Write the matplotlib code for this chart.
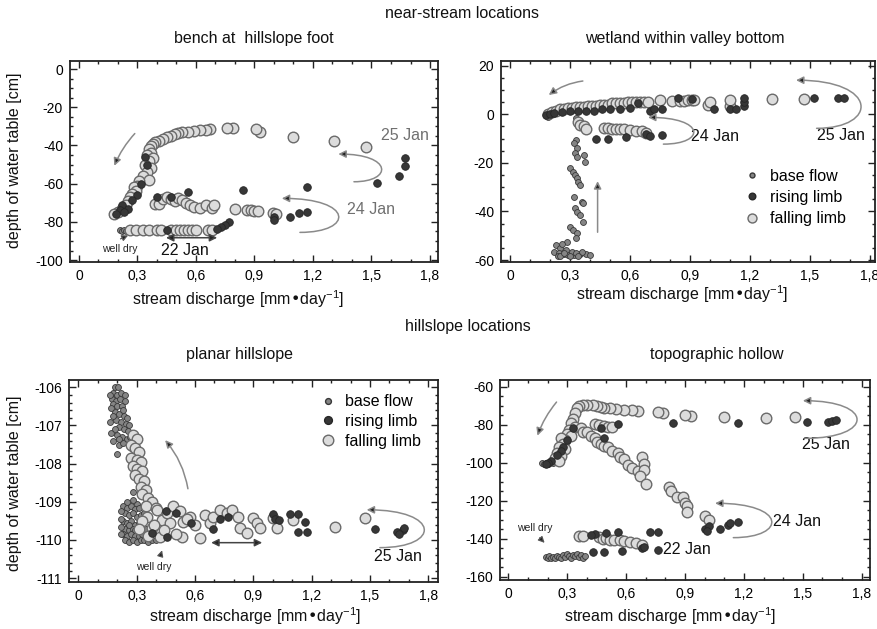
import matplotlib
matplotlib.use("Agg")
import matplotlib.pyplot as plt
from matplotlib.patches import FancyArrowPatch
from matplotlib.path import Path
from matplotlib.lines import Line2D
from matplotlib.ticker import MultipleLocator

plt.rcParams["font.family"] = ["Liberation Sans", "DejaVu Sans"]
plt.rcParams["mathtext.default"] = "regular"

# ---------------------------------------------------------------- axes ticks
x_ticks = [0, 0.3, 0.6, 0.9, 1.2, 1.5, 1.8]
x_tick_labels = ["0", "0,3", "0,6", "0,9", "1,2", "1,5", "1,8"]

bench_y_ticks = [0, -20, -40, -60, -80, -100]
wetland_y_ticks = [20, 0, -20, -40, -60]
planar_y_ticks = [-106, -107, -108, -109, -110, -111]
hollow_y_ticks = [-60, -80, -100, -120, -140, -160]

# ---------------------------------------------------------------- bench at hillslope foot
bench_base_x = [0.17, 0.18, 0.19, 0.20, 0.21, 0.22, 0.21, 0.22, 0.23, 0.24, 0.25,
                0.26, 0.27, 0.28, 0.29, 0.30, 0.31, 0.32, 0.33, 0.34, 0.35]
bench_base_y = [-76.5, -76, -75.5, -75, -74, -73, -84.5, -84.8, -84.5, -84.8, -84.5,
                -84.8, -84.5, -84.8, -84.5, -84.8, -84.5, -84.6, -84.5, -84.7, -84.5]

bench_rise_x = [1.67, 1.67, 1.64, 1.53, 1.17, 0.84, 0.56, 1.00, 1.00, 1.08, 1.13, 1.17,
                0.77, 0.75, 0.73, 0.71, 0.45, 0.47, 0.30, 0.27, 0.22, 0.21, 0.19, 0.25,
                0.32, 0.35, 0.34, 0.23, 0.40]
bench_rise_y = [-46.5, -51, -56, -59.5, -61.5, -63.5, -64.5, -77.5, -79, -77.5, -75.5, -75,
                -80, -81.5, -82.5, -83.5, -84.5, -67, -66, -68.5, -71, -74, -76, -73,
                -60, -50, -46, -75, -67]

bench_fall_x = [1.47, 1.31, 1.10, 0.93, 0.91, 0.79, 0.76, 0.67, 0.65, 0.62, 0.59, 0.56,
                0.53, 0.51, 0.49, 0.47, 0.45, 0.43, 0.41, 0.39, 0.38, 0.37, 0.36, 0.37,
                0.35, 0.38, 0.36, 0.34, 0.37, 0.35, 0.33, 0.36, 0.31, 0.30, 0.28, 0.29,
                0.27, 0.26, 0.25, 0.24, 0.22, 0.20, 0.18,
                0.39, 0.41, 0.43, 0.45, 0.47, 0.49, 0.51, 0.53, 0.55, 0.57, 0.59, 0.62,
                0.65, 0.68, 0.69, 0.80, 0.86, 0.88, 0.90, 0.92, 0.995, 1.01,
                0.26, 0.29, 0.33, 0.36, 0.40, 0.42, 0.47, 0.50, 0.52, 0.54, 0.56, 0.58,
                0.60, 0.66, 0.68]
bench_fall_y = [-41, -37.5, -35.5, -33, -31.5, -31, -31, -31.5, -32, -32, -32.5, -33,
                -33, -33.5, -34, -35, -35.5, -36.5, -37.5, -38, -39.5, -40.5, -42, -44,
                -45, -46.5, -48, -50, -52, -54, -56, -58, -58.5, -61, -62, -64,
                -65.5, -67, -69, -71, -73, -75, -76,
                -70.5, -70.5, -68, -67, -68, -69, -67.5, -68.5, -70, -71, -72, -72.5,
                -71, -72.5, -71, -73, -74, -74, -74.5, -74.5, -75.5, -76,
                -84.5, -84.5, -84.5, -84.5, -84.5, -84.5, -84.5, -84.5, -84.5, -84.5, -84.5, -84.5,
                -84.5, -84.5, -84.5]

# ---------------------------------------------------------------- wetland within valley bottom
wetland_base_x = [0.18, 0.19, 0.33, 0.34, 0.35, 0.33, 0.32, 0.333, 0.325, 0.337, 0.37, 0.377,
                  0.30, 0.313, 0.325, 0.333, 0.342, 0.35, 0.32, 0.358, 0.367, 0.325, 0.337,
                  0.35, 0.363, 0.30, 0.317, 0.337, 0.33, 0.283,
                  0.23, 0.25, 0.22, 0.245, 0.27, 0.29, 0.32, 0.35, 0.38, 0.40, 0.24, 0.25,
                  0.28, 0.31, 0.33, 0.26, 0.36, 0.30, 0.27, 0.34]
wetland_base_y = [-0.5, -1, -1.5, -2.5, -3.5, -10.6, -12, -14, -16, -17.5, -16.8, -19.5,
                  -22.2, -23.6, -25, -26.4, -27.7, -29.1, -34, -36, -36.7, -38.7, -40.1,
                  -41.5, -44.2, -46.3, -47.6, -49, -51, -52.5,
                  -54, -55, -56.5, -57, -57.5, -58, -58, -57.5, -57.5, -58, -58.5, -58.5,
                  -56, -56.5, -57, -53.5, -56.5, -58.5, -57, -58.3]

wetland_rise_x = [0.18, 0.20, 0.22, 0.26, 0.30, 0.34, 0.38, 0.42, 0.46, 0.50, 0.55, 0.60,
                  0.64, 0.70, 0.72, 0.76, 0.84, 0.91, 1.02, 1.10, 1.13, 1.17, 1.17, 1.17,
                  1.52, 1.64, 1.67, 0.43, 0.49, 0.58, 0.68, 0.70, 0.76]
wetland_rise_y = [-0.5, 0, 0.5, 1, 1.5, 1.5, 1.5, 1.5, 2, 2, 2, 2.5,
                  4.5, 1.5, 2, 2, 6.5, 6.3, 2, 2, 2, 3.5, 5, 6.5,
                  6.8, 6.7, 6.8, -10.3, -10, -9.5, -8, -9, -8.5]

wetland_fall_x = [0.19, 0.21, 0.23, 0.25, 0.27, 0.29, 0.31, 0.33, 0.35, 0.37, 0.39, 0.41,
                  0.43, 0.45, 0.47, 0.49, 0.51, 0.53, 0.55, 0.57, 0.59, 0.61, 0.63, 0.65,
                  0.67, 0.69, 0.75, 0.81, 0.85, 0.87, 0.89, 0.91, 0.92, 0.99, 1.00, 1.10,
                  1.10, 1.31, 1.47,
                  0.34, 0.35, 0.37, 0.38, 0.47, 0.49, 0.51, 0.53, 0.55, 0.57, 0.60, 0.63,
                  0.66, 0.68]
wetland_fall_y = [0, 1, 1.5, 2, 2, 2.5, 2.5, 3, 3, 3, 3.5, 3.5,
                  3.5, 4, 4, 4, 4.5, 4.5, 4.5, 4.5, 5, 5, 5, 5,
                  5, 5, 6, 5.5, 5.5, 5.5, 6, 6, 6, 4, 5, 3.5,
                  6, 6.3, 6.3,
                  -3, -4.5, -5, -6, -5.5, -5.5, -6, -6, -6, -6.2, -6.5, -6.8,
                  -7, -7.8]

# ---------------------------------------------------------------- planar hillslope
planar_base_x = [0.19, 0.205, 0.18, 0.20, 0.22, 0.175, 0.195, 0.215, 0.18, 0.20, 0.225,
                 0.19, 0.21, 0.235, 0.195, 0.22, 0.245, 0.21, 0.235, 0.255, 0.20, 0.225,
                 0.25, 0.21, 0.26, 0.20, 0.283, 0.30,
                 0.165, 0.17, 0.23, 0.165, 0.24, 0.17, 0.25, 0.18, 0.26, 0.19, 0.265,
                 0.18, 0.24, 0.27, 0.23, 0.21, 0.27,
                 0.23, 0.25, 0.27, 0.29, 0.31, 0.24, 0.26, 0.28, 0.30, 0.32, 0.34,
                 0.23, 0.25, 0.27, 0.29, 0.31, 0.33, 0.24, 0.26, 0.28, 0.30, 0.35,
                 0.23, 0.25, 0.27, 0.29, 0.31, 0.33, 0.37, 0.24, 0.26, 0.28, 0.30, 0.32,
                 0.34, 0.36, 0.38, 0.40, 0.22, 0.22, 0.22, 0.22, 0.25, 0.28, 0.26, 0.29]
planar_base_y = [-106.0, -106.0, -106.15, -106.2, -106.15, -106.3, -106.35, -106.3, -106.45,
                 -106.5, -106.5, -106.65, -106.7, -106.75, -106.85, -106.9, -106.95,
                 -107.05, -107.1, -107.15, -107.25, -107.3, -107.35, -107.5, -107.5,
                 -107.75, -108.75, -109.05,
                 -106.2, -106.55, -106.6, -106.9, -106.35, -107.2, -106.8, -107.4,
                 -107.0, -107.1, -107.3, -106.75, -106.2, -107.6, -107.45, -107.35, -107.3,
                 -109.1, -109.15, -109.1, -109.2, -109.15, -109.3, -109.35, -109.3, -109.4,
                 -109.35, -109.3,
                 -109.5, -109.55, -109.5, -109.6, -109.55, -109.5, -109.7, -109.75, -109.7,
                 -109.75, -109.7,
                 -109.85, -109.9, -109.85, -109.9, -109.9, -109.85, -109.9, -110.0, -110.05,
                 -110.0, -110.05, -110.0, -110.0, -110.05, -110.0, -110.0,
                 -109.25, -109.45, -109.65, -109.85, -109.0, -108.95, -109.6, -109.75]

planar_rise_x = [0.694, 0.729, 0.77, 1.003, 1.011, 1.03, 1.089, 1.131, 1.166, 1.131, 1.174,
                 1.526, 1.637, 1.671, 1.676, 1.65, 0.377, 0.454, 0.45, 0.50, 0.58]
planar_rise_y = [-109.72, -109.46, -109.4, -109.32, -109.46, -109.48, -109.32, -109.32,
                 -109.52, -109.8, -109.8, -109.72, -109.8, -109.75, -109.69, -109.84,
                 -109.82, -109.91, -109.25, -109.3, -109.55]

planar_fall_x = [0.28, 0.30, 0.27, 0.29, 0.31, 0.27, 0.30, 0.32, 0.28, 0.30, 0.33, 0.29,
                 0.31, 0.34, 0.32, 0.35, 0.33, 0.36, 0.38, 0.35, 0.40,
                 0.351, 0.377, 0.403, 0.429, 0.454, 0.489, 0.471, 0.523, 0.54, 0.574, 0.60,
                 0.626, 0.651, 0.677, 0.694, 0.729, 0.763, 0.789, 0.823, 0.831, 0.866,
                 0.90, 0.917, 0.934, 1.003, 1.02, 1.106, 1.32, 1.474,
                 0.531, 0.42, 0.33, 0.31, 0.36, 0.39, 0.44, 0.50, 0.56]
planar_fall_y = [-107.25, -107.35, -107.5, -107.6, -107.7, -107.85, -107.9, -107.95, -108.05,
                 -108.15, -108.2, -108.3, -108.4, -108.45, -108.6, -108.7, -108.8, -108.9,
                 -109.0, -109.1, -109.15,
                 -109.39, -109.69, -109.21, -109.47, -109.3, -109.12, -109.56, -109.25,
                 -109.52, -109.39, -109.6, -109.95, -109.34, -109.56, -109.39, -109.21,
                 -109.3, -109.21, -109.39, -109.69, -109.82, -109.43, -109.56, -109.69,
                 -109.43, -109.69, -109.47, -109.65, -109.43,
                 -109.93, -109.91, -109.5, -109.7, -109.9, -109.6, -109.75, -109.85, -109.45]

# ---------------------------------------------------------------- topographic hollow
hollow_base_x = [0.17, 0.18, 0.19, 0.20, 0.21, 0.22, 0.23,
                 0.19, 0.20, 0.21, 0.22, 0.23, 0.24, 0.25, 0.26, 0.27, 0.28, 0.29, 0.30,
                 0.31, 0.32, 0.33, 0.34, 0.35, 0.36, 0.37, 0.38, 0.39]
hollow_base_y = [-100, -100.5, -100, -100.5, -100, -99.5, -100,
                 -149.5, -150, -149, -150, -149.5, -150, -149, -149.5, -150, -148.5, -149.5,
                 -148, -149, -150, -148.5, -149, -148, -149.5, -148.5, -150, -149]

hollow_rise_x = [1.52, 1.63, 1.65, 1.67, 1.17, 0.84, 0.56, 0.49, 0.47,
                 1.00, 1.02, 1.01, 1.08, 1.12, 1.13, 1.17,
                 0.72, 0.76, 0.56, 0.50, 0.44, 0.42,
                 0.43, 0.49, 0.58, 0.68, 0.69, 0.76,
                 0.33, 0.30, 0.28, 0.27, 0.25, 0.22, 0.20, 0.19]
hollow_rise_y = [-78.5, -78.5, -78, -77.5, -79, -79, -79.5, -87, -82,
                 -135, -133.5, -136, -135, -133, -132, -131,
                 -136.5, -136.5, -136.5, -137, -137.5, -138,
                 -147, -147, -146.5, -145, -144.5, -146,
                 -82, -88, -92, -94, -96, -99, -100, -100.5]

hollow_fall_x = [1.46, 1.31, 1.10, 0.93, 0.90, 0.79, 0.76, 0.66, 0.63, 0.59, 0.55, 0.52,
                 0.49, 0.47, 0.45, 0.43, 0.40, 0.38, 0.36, 0.35,
                 0.34, 0.33, 0.32, 0.34, 0.31, 0.30, 0.32, 0.29, 0.27, 0.28, 0.26, 0.29,
                 0.25, 0.27, 0.24, 0.26,
                 0.37, 0.38, 0.40, 0.42, 0.44, 0.45, 0.47, 0.49, 0.51, 0.53, 0.56, 0.57,
                 0.59, 0.61, 0.63, 0.66, 0.68, 0.69, 0.69, 0.67, 0.70, 0.82, 0.83, 0.86,
                 0.89, 0.90, 0.91, 0.91, 1.00, 1.02,
                 0.44, 0.46, 0.49, 0.51, 0.53,
                 0.36, 0.38, 0.46, 0.48, 0.50, 0.52, 0.54, 0.57, 0.59, 0.62, 0.65, 0.68]
hollow_fall_y = [-76, -76.5, -76, -75.5, -75, -74, -73.5, -73, -72.5, -72.5, -72, -71.5,
                 -71, -70.5, -70, -69.5, -69.5, -69.5, -70, -71.5,
                 -74, -77, -79, -81, -83, -85, -86, -88, -87, -90, -92, -93,
                 -95, -96.5, -97.5, -99,
                 -82, -84, -84, -86, -87, -89, -90, -91, -92, -94, -95, -97,
                 -98, -101, -103, -104.5, -97, -100.5, -104, -107, -111, -113, -115, -118,
                 -118, -121, -123, -126, -128, -130,
                 -79.5, -80, -80.5, -81, -81,
                 -138.5, -138.5, -139, -140, -139.5, -140.5, -141, -141, -141.5, -142,
                 -142.5, -143.5]

# ---------------------------------------------------------------- marker styles
BASE = dict(s=18, facecolor="#858585", edgecolor="#383838", linewidths=0.6, zorder=3)
FALL = dict(s=58, facecolor="#dcdcdc", edgecolor="#6a6a6a", linewidths=1.0, zorder=4)
RISE = dict(s=30, facecolor="#373737", edgecolor="#262626", linewidths=0.6, zorder=5)

LINE_GREY = "#8a8a8a"
HEAD_DARK = "#222222"

fig = plt.figure(figsize=(8.78, 6.29), dpi=100)
fig.patch.set_facecolor("white")

ax_bench = fig.add_axes([70 / 878, 1 - 262 / 629, 368 / 878, 201 / 629])
ax_wet = fig.add_axes([501 / 878, 1 - 262 / 629, 374 / 878, 201 / 629])
ax_planar = fig.add_axes([69 / 878, 1 - 582 / 629, 369 / 878, 202 / 629])
ax_hollow = fig.add_axes([500 / 878, 1 - 580 / 629, 370 / 878, 200 / 629])


def style_axes(ax, xlim, ylim, yticks, yminor):
    ax.set_xlim(*xlim)
    ax.set_ylim(*ylim)
    ax.set_xticks(x_ticks)
    ax.set_xticklabels(x_tick_labels)
    ax.set_yticks(yticks)
    ax.set_yticklabels([str(v) for v in yticks])
    ax.xaxis.set_minor_locator(MultipleLocator(0.1))
    ax.yaxis.set_minor_locator(MultipleLocator(yminor))
    ax.tick_params(which="both", direction="in", top=True, right=True,
                   color="#222222", width=1.0)
    ax.tick_params(which="major", length=5, labelsize=10, pad=5)
    ax.tick_params(which="minor", length=2.5)
    for sp in ax.spines.values():
        sp.set_linewidth(1.3)
        sp.set_color("#222222")


def draw(ax, bx, by, rx, ry, fx, fy):
    ax.scatter(bx, by, **BASE)
    ax.scatter(fx, fy, **FALL)
    ax.scatter(rx, ry, **RISE)


def curved(ax, start, end, rad, lw=1.1):
    ax.add_patch(FancyArrowPatch(start, end, connectionstyle=f"arc3,rad={rad}",
                                 arrowstyle="-|>", mutation_scale=11,
                                 facecolor=HEAD_DARK, edgecolor=LINE_GREY,
                                 linewidth=lw, zorder=6))


def loop(ax, start, end, x_bulge, lw=1.1):
    """C-shaped return arrow: leaves start to the right, swings out to
    x_bulge and comes back towards end, pointing left."""
    (x1, y1), (x2, y2) = start, end
    xc = (x_bulge - 0.125 * (x1 + x2)) / 0.75
    path = Path([start, (xc, y1), (xc, y2), end],
                [Path.MOVETO, Path.CURVE4, Path.CURVE4, Path.CURVE4])
    ax.add_patch(FancyArrowPatch(path=path, arrowstyle="-|>", mutation_scale=11,
                                 facecolor=HEAD_DARK, edgecolor=LINE_GREY,
                                 linewidth=lw, zorder=6))


def double(ax, start, end):
    ax.add_patch(FancyArrowPatch(start, end, arrowstyle="<|-|>", mutation_scale=11,
                                 facecolor=HEAD_DARK, edgecolor="#444444",
                                 linewidth=1.1, zorder=6))


def small_arrow(ax, start, end):
    ax.add_patch(FancyArrowPatch(start, end, arrowstyle="-|>", mutation_scale=9,
                                 facecolor=HEAD_DARK, edgecolor="#555555",
                                 linewidth=0.9, zorder=6))


# bench at hillslope foot
style_axes(ax_bench, (-0.046, 1.841), (-101, 4.2), bench_y_ticks, 5)
draw(ax_bench, bench_base_x, bench_base_y, bench_rise_x, bench_rise_y,
     bench_fall_x, bench_fall_y)
curved(ax_bench, (0.296, -32.7), (0.176, -52), 0.1)
loop(ax_bench, (1.41, -59), (1.33, -44.5), 1.55)
loop(ax_bench, (1.133, -85.5), (1.04, -67.7), 1.33)
double(ax_bench, (0.432, -88.3), (0.723, -88.3))
small_arrow(ax_bench, (0.20, -89.5), (0.265, -86.5))
ax_bench.text(1.67, -35, "25 Jan", ha="center", va="center", fontsize=11.5, color="#707070")
ax_bench.text(1.50, -73.4, "24 Jan", ha="center", va="center", fontsize=11.5, color="#707070")
ax_bench.text(0.544, -94.8, "22 Jan", ha="center", va="center", fontsize=11.5, color="#111111")
ax_bench.text(0.21, -94.4, "well dry", ha="center", va="center", fontsize=7.5, color="#222222")

# wetland within valley bottom
style_axes(ax_wet, (-0.045, 1.825), (-60.8, 21.9), wetland_y_ticks, 5)
draw(ax_wet, wetland_base_x, wetland_base_y, wetland_rise_x, wetland_rise_y,
     wetland_fall_x, wetland_fall_y)
curved(ax_wet, (0.378, 13.8), (0.183, 7.2), 0.15)
curved(ax_wet, (0.438, -49.7), (0.438, -26.4), 0.0)
loop(ax_wet, (0.767, -12.3), (0.69, -1.3), 0.917)
loop(ax_wet, (1.533, -5.8), (1.43, 14.0), 1.753)
ax_wet.text(1.025, -9.0, "24 Jan", ha="center", va="center", fontsize=11.5, color="#111111")
ax_wet.text(1.655, -8.6, "25 Jan", ha="center", va="center", fontsize=11.5, color="#111111")

# planar hillslope
style_axes(ax_planar, (-0.048, 1.85), (-111.1, -105.81), planar_y_ticks, 0.2)
draw(ax_planar, planar_base_x, planar_base_y, planar_rise_x, planar_rise_y,
     planar_fall_x, planar_fall_y)
curved(ax_planar, (0.566, -108.73), (0.437, -107.33), 0.15)
double(ax_planar, (0.669, -110.07), (0.96, -110.07))
small_arrow(ax_planar, (0.42, -110.45), (0.435, -110.2))
loop(ax_planar, (1.551, -110.2), (1.483, -109.21), 1.778)
ax_planar.text(1.646, -110.43, "25 Jan", ha="center", va="center", fontsize=11.5, color="#111111")
ax_planar.text(0.386, -110.7, "well dry", ha="center", va="center", fontsize=7.5, color="#222222")

# topographic hollow
style_axes(ax_hollow, (-0.042, 1.842), (-161.8, -56.5), hollow_y_ticks, 5)
draw(ax_hollow, hollow_base_x, hollow_base_y, hollow_rise_x, hollow_rise_y,
     hollow_fall_x, hollow_fall_y)
curved(ax_hollow, (0.255, -67), (0.144, -87.2), 0.1)
loop(ax_hollow, (1.511, -87.2), (1.50, -67.4), 1.775)
loop(ax_hollow, (1.146, -139.5), (1.053, -121.4), 1.34)
small_arrow(ax_hollow, (0.15, -138.5), (0.195, -143.3))
ax_hollow.text(1.62, -90.7, "25 Jan", ha="center", va="center", fontsize=11.5, color="#111111")
ax_hollow.text(1.47, -131, "24 Jan", ha="center", va="center", fontsize=11.5, color="#111111")
ax_hollow.text(0.908, -146, "22 Jan", ha="center", va="center", fontsize=11.5, color="#111111")
ax_hollow.text(0.136, -134.6, "well dry", ha="center", va="center", fontsize=7.5, color="#222222")

# legends
legend_labels = ["base flow", "rising limb", "falling limb"]


def legend_handles(scale):
    return [
        Line2D([], [], ls="none", marker="o", markersize=4.2 * scale,
               markerfacecolor=BASE["facecolor"], markeredgecolor=BASE["edgecolor"]),
        Line2D([], [], ls="none", marker="o", markersize=5.6 * scale,
               markerfacecolor=RISE["facecolor"], markeredgecolor=RISE["edgecolor"]),
        Line2D([], [], ls="none", marker="o", markersize=7.6 * scale,
               markerfacecolor=FALL["facecolor"], markeredgecolor=FALL["edgecolor"]),
    ]


ax_wet.legend(legend_handles(0.85), legend_labels, loc="upper left",
              bbox_to_anchor=(0.65, 0.465), frameon=False, fontsize=11.5,
              handlelength=1.0, handletextpad=0.6, borderpad=0, borderaxespad=0,
              labelspacing=0.4)
ax_planar.legend(legend_handles(1.0), legend_labels, loc="upper left",
                 bbox_to_anchor=(0.68, 0.93), frameon=False, fontsize=11.5,
                 handlelength=1.0, handletextpad=0.6, borderpad=0, borderaxespad=0,
                 labelspacing=0.3)

# titles and axis labels
title_kw = dict(ha="center", va="center", fontsize=11.5, color="#111111")
fig.text(0.526, 1 - 13 / 629, "near-stream locations", **title_kw)
fig.text(0.533, 1 - 327 / 629, "hillslope locations", **title_kw)
fig.text(254 / 878, 1 - 39 / 629, "bench at  hillslope foot", **title_kw)
fig.text(684.5 / 878, 1 - 39 / 629, "wetland within valley bottom", **title_kw)
fig.text(240 / 878, 1 - 355 / 629, "planar hillslope", **title_kw)
fig.text(717 / 878, 1 - 355 / 629, "topographic hollow", **title_kw)

xlabel = "stream discharge [mm\u2022day$^{-1}$]"
fig.text(238 / 878, 1 - 299 / 629, xlabel, **title_kw)
fig.text(682 / 878, 1 - 294 / 629, xlabel, **title_kw)
fig.text(255 / 878, 1 - 616 / 629, xlabel, **title_kw)
fig.text(670 / 878, 1 - 616 / 629, xlabel, **title_kw)

ylabel = "depth of water table [cm]"
fig.text(15 / 878, 1 - 160 / 629, ylabel, rotation=90, **title_kw)
fig.text(15 / 878, 1 - 483 / 629, ylabel, rotation=90, **title_kw)

fig.savefig("out.png", dpi=100, facecolor="white")
